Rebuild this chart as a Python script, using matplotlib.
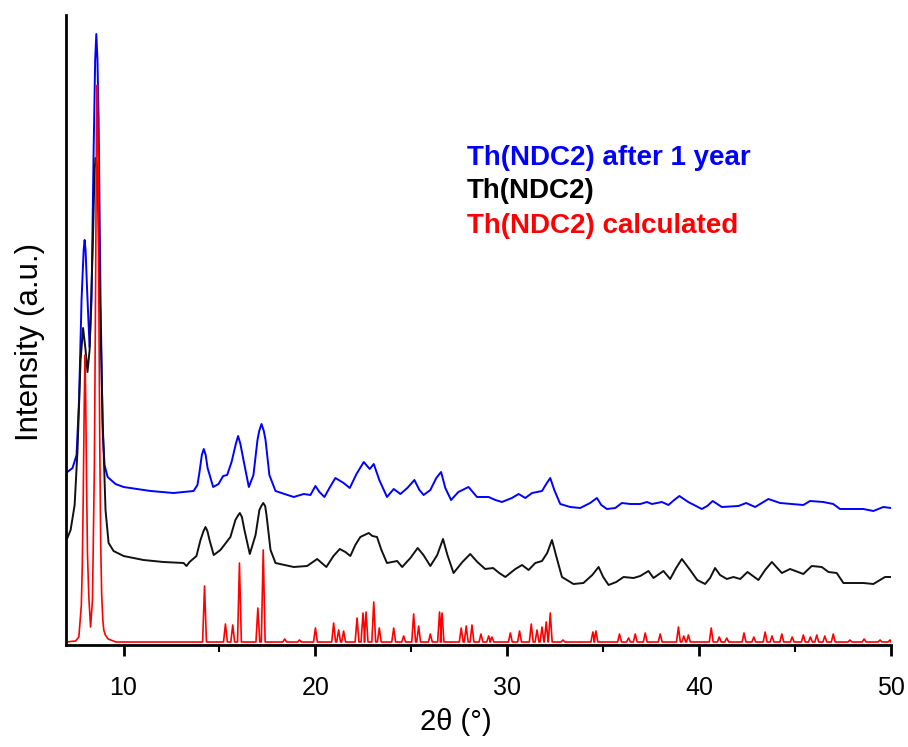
import matplotlib
matplotlib.use('Agg')
import matplotlib.pyplot as plt
from matplotlib.ticker import MultipleLocator

# (2theta in degrees, intensity in arbitrary units)
blue_x = [7.07, 7.34, 7.55, 7.68, 7.81, 7.92, 7.97, 8.02, 8.10, 8.23, 8.33, 8.44, 8.52, 8.58, 8.64,
          8.70, 8.80, 8.91, 9.01, 9.17, 9.58, 10.0, 11.41, 12.6, 13.65, 13.85, 13.95, 14.08, 14.18,
          14.28, 14.38, 14.67, 14.95, 15.19, 15.40, 15.63, 15.85, 15.97, 16.09, 16.25, 16.53, 16.77,
          16.98, 17.07, 17.19, 17.31, 17.40, 17.60, 17.92, 18.39, 18.87, 19.39, 19.74, 20.0, 20.21,
          20.47, 20.73, 21.04, 21.47, 21.79, 22.14, 22.52, 22.83, 23.04, 23.33, 23.73, 24.08, 24.43,
          24.79, 25.16, 25.42, 25.64, 25.99, 26.30, 26.55, 26.77, 27.07, 27.45, 27.98, 28.42, 29.03,
          29.38, 29.72, 30.24, 30.59, 30.94, 31.29, 31.81, 32.03, 32.24, 32.45, 32.76, 33.28, 33.8,
          34.32, 34.67, 34.9, 35.19, 35.63, 35.97, 36.41, 36.93, 37.28, 37.54, 38.06, 38.40, 38.70,
          38.97, 39.43, 40.14, 40.42, 40.71, 41.18, 42.05, 42.45, 42.92, 43.61, 44.22, 45.43, 45.78,
          46.47, 46.99, 47.34, 48.56, 49.08, 49.6, 50.0]
blue_y = [173, 177, 190, 245, 345, 395, 405, 395, 355, 298, 345, 495, 585, 611, 585,
          525, 345, 215, 180, 168, 161, 158, 154, 152, 154, 160, 172, 190, 196,
          190, 177, 158, 161, 169, 170, 183, 201, 209, 201, 185, 158, 170,
          205, 214, 221, 214, 205, 170, 154, 151, 148, 151, 150, 159, 153,
          148, 157, 167, 162, 157, 171, 183, 176, 181, 165, 148, 156, 151,
          157, 165, 155, 150, 155, 167, 173, 157, 145, 153, 158, 148, 148,
          145, 143, 147, 151, 147, 152, 154, 161, 167, 155, 141, 138, 137,
          142, 147, 140, 136, 137, 142, 141, 141, 143, 141, 143, 140, 145,
          149, 143, 136, 139, 144, 138, 139, 142, 138, 146, 142, 140, 144,
          143, 141, 136, 136, 134, 138, 137]

black_x = [7.07, 7.24, 7.45, 7.60, 7.76, 7.89, 8.02, 8.12, 8.23, 8.39, 8.49, 8.54, 8.60, 8.65, 8.75,
           8.91, 9.06, 9.22, 9.48, 10.0, 11.04, 12.08, 13.13, 13.28, 13.44, 13.80, 14.01, 14.17, 14.27,
           14.37, 14.48, 14.70, 15.05, 15.57, 15.83, 15.95, 16.06, 16.17, 16.30, 16.58, 16.88, 17.08,
           17.18, 17.28, 17.38, 17.45, 17.66, 17.92, 18.87, 19.57, 20.09, 20.57, 20.94, 21.27, 21.56,
           21.82, 22.08, 22.34, 22.78, 22.97, 23.21, 23.44, 23.73, 24.26, 24.52, 24.95, 25.33, 25.63,
           25.99, 26.35, 26.65, 26.88, 27.20, 27.66, 28.07, 28.44, 28.85, 29.26, 29.58, 29.90, 30.42,
           30.77, 31.11, 31.46, 31.81, 32.08, 32.33, 32.55, 32.85, 33.45, 33.97, 34.43, 34.76, 35.0,
           35.28, 35.68, 36.06, 36.58, 36.93, 37.36, 37.62, 38.14, 38.49, 38.80, 39.10, 39.53, 39.90,
           40.31, 40.57, 40.83, 41.09, 41.44, 41.79, 42.14, 42.52, 43.09, 43.44, 43.79, 44.31, 44.74,
           45.43, 45.87, 46.39, 46.74, 47.17, 47.52, 48.56, 49.08, 49.69, 50.0]
black_y = [107, 115, 140, 195, 285, 317, 295, 273, 295, 395, 475, 487, 483, 465, 365,
           225, 135, 102, 94, 89, 85, 83, 82, 79, 83, 89, 105, 114, 118,
           114, 105, 90, 95, 108, 125, 129, 132, 128, 115, 91, 110, 135,
           139, 142, 139, 130, 95, 82, 78, 79, 86, 78, 89, 96, 93,
           89, 100, 108, 112, 109, 108, 95, 82, 84, 78, 87, 97, 90,
           79, 90, 106, 90, 72, 83, 91, 83, 76, 77, 72, 68, 76,
           80, 75, 82, 84, 92, 105, 89, 68, 61, 62, 70, 78, 68,
           60, 63, 68, 67, 69, 74, 67, 74, 66, 77, 86, 75, 65,
           61, 67, 77, 70, 66, 68, 66, 73, 65, 75, 83, 72, 76,
           71, 79, 78, 73, 72, 62, 62, 61, 68, 68]

# calculated pattern: the two strong low-angle reflections
red_x = [7.0, 7.5, 7.67, 7.80, 7.85, 7.90, 7.95, 7.99, 8.03, 8.08, 8.12, 8.19, 8.28, 8.38, 8.48,
         8.55, 8.59, 8.63, 8.68, 8.72, 8.76, 8.81, 8.86, 8.92, 8.97, 9.05, 9.2, 9.6, 10.0, 14.0]
red_y = [3, 4, 8, 40, 80, 150, 240, 290, 240, 150, 90, 48, 18, 45, 180,
         380, 520, 560, 480, 320, 200, 100, 50, 25, 15, 10, 6, 3, 3, 3]
# calculated pattern: remaining reflections (position, height)
peak_pos = [14.22, 15.31, 15.69, 16.04, 17.0, 17.28, 18.40, 19.17, 20.0, 20.95, 21.21, 21.47,
            22.17, 22.48, 22.64, 23.04, 23.33, 24.08, 24.60, 25.12, 25.38, 25.99, 26.47, 26.60,
            27.60, 27.86, 28.16, 28.63, 29.03, 29.20, 30.16, 30.64, 31.25, 31.55, 31.81, 32.03,
            32.24, 32.90, 34.46, 34.62, 35.85, 36.32, 36.67, 37.19, 37.97, 38.92, 39.20, 39.44,
            40.63, 41.05, 41.44, 42.34, 42.85, 43.44, 43.80, 44.31, 44.85, 45.43, 45.80, 46.13,
            46.55, 46.99, 47.86, 48.60, 49.43, 49.95]
peak_h = [59, 21, 20, 82, 37, 95, 6, 5, 17, 22, 15, 14,
          27, 32, 33, 43, 17, 17, 9, 31, 19, 11, 33, 32,
          17, 19, 20, 11, 9, 8, 12, 14, 21, 15, 18, 23,
          32, 5, 13, 14, 11, 7, 11, 12, 11, 18, 9, 10,
          17, 8, 7, 12, 8, 13, 9, 11, 8, 10, 8, 10,
          9, 11, 5, 6, 5, 5]

xticks = [10, 20, 30, 40, 50]

fig = plt.figure(figsize=(9.08, 7.47), dpi=100)
ax = fig.add_axes([66/908, 102/747, 825/908, 630/747])

ax.plot(blue_x, blue_y, color='#0000ff', lw=1.4, solid_joinstyle='round')
ax.plot(black_x, black_y, color='#111111', lw=1.4, solid_joinstyle='round')

# spikes for the calculated pattern
hw = 0.1
rx, ry = list(red_x), list(red_y)
for p, h in zip(peak_pos, peak_h):
    rx += [p - hw, p, p + hw]
    ry += [3, h, 3]
rx.append(50.0)
ry.append(3)
ax.plot(rx, ry, color='#ff0000', lw=1.2, solid_joinstyle='round')

ax.set_xlim(7, 50)
ax.set_ylim(0, 630)
ax.spines['top'].set_visible(False)
ax.spines['right'].set_visible(False)
ax.spines['left'].set_linewidth(2)
ax.spines['bottom'].set_linewidth(2)
ax.set_yticks([])
ax.set_xticks(xticks)
ax.xaxis.set_minor_locator(MultipleLocator(5))
ax.tick_params(axis='x', which='major', length=8, width=2, pad=14, labelsize=18)
ax.tick_params(axis='x', which='minor', length=5, width=1.5)
for lab in ax.get_xticklabels():
    lab.set_family('Liberation Sans')

fig.text(30/908, 1 - 342/747, 'Intensity (a.u.)', rotation=90, ha='center', va='center',
         fontsize=22.5, family='Liberation Sans')
fig.text(456/908, 1 - 722/747, '2θ (°)', ha='center', va='center',
         fontsize=21, family='Liberation Sans')

legend_txt = ['Th(NDC2) after 1 year', 'Th(NDC2)', 'Th(NDC2) calculated']
legend_col = ['#0000ff', '#000000', '#ff0000']
legend_py = [158, 191, 226]
for t, c, py in zip(legend_txt, legend_col, legend_py):
    fig.text(467/908, 1 - py/747, t, color=c, ha='left', va='center',
             fontsize=20, fontweight='bold', family='Liberation Sans')

fig.savefig('out.png', dpi=100)
